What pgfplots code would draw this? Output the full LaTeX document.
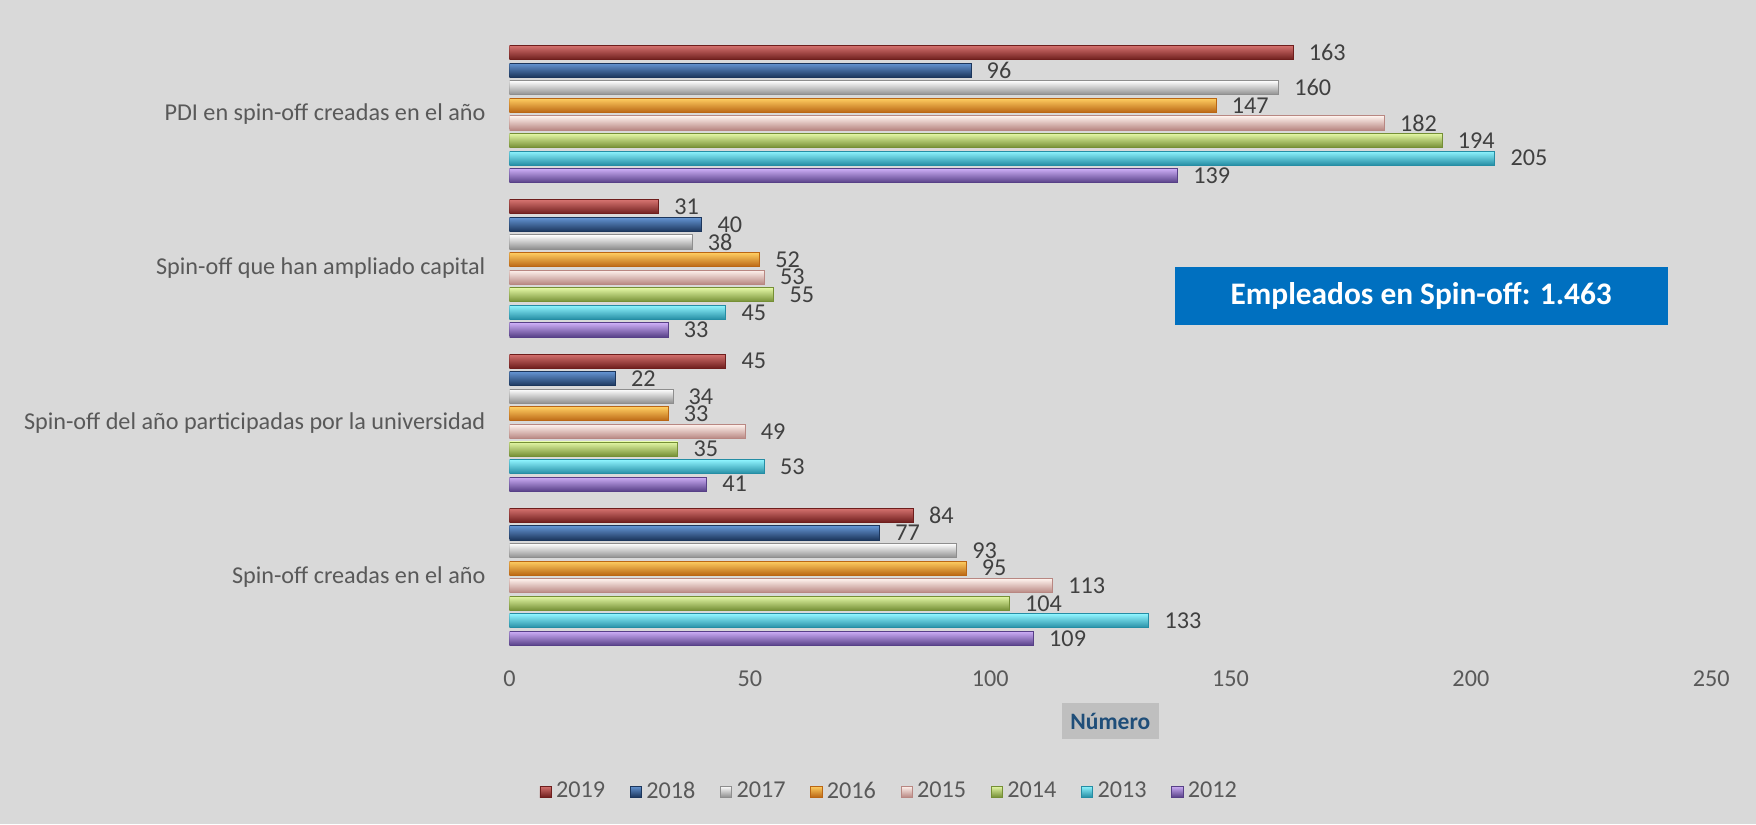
\documentclass[border=0pt]{standalone}
\usepackage{pgfplots}
\pgfplotsset{compat=1.18}
\usepackage{fontspec}
\setmainfont{Carlito}
\definecolor{bgc}{HTML}{D9D9D9}
\definecolor{tickgray}{HTML}{595959}
\definecolor{labgray}{HTML}{404040}
\definecolor{boxblue}{HTML}{0070C0}
\definecolor{xlabblue}{HTML}{1F4E79}
\definecolor{xlabbox}{HTML}{BFBFBF}
\definecolor{aT}{HTML}{D5726F}\definecolor{aB}{HTML}{6E1E1D}
\definecolor{bT}{HTML}{6494D2}\definecolor{bB}{HTML}{1C365C}
\definecolor{cT}{HTML}{FFFFFF}\definecolor{cB}{HTML}{8E8E8E}
\definecolor{dT}{HTML}{FFCE62}\definecolor{dB}{HTML}{BA6614}
\definecolor{eT}{HTML}{FFF3EE}\definecolor{eB}{HTML}{B88782}
\definecolor{fT}{HTML}{E4F8A6}\definecolor{fB}{HTML}{758F35}
\definecolor{gT}{HTML}{90F5FF}\definecolor{gB}{HTML}{258DA4}
\definecolor{hT}{HTML}{CDAEF6}\definecolor{hB}{HTML}{574087}
% one series: #1 colour prefix, #2 bar shift, #3..#6 values for categories 0..3
\newcommand\series[6]{%
\addplot[bar shift=#2, draw=#1B, top color=#1T, bottom color=#1B] coordinates {(#3,0)};
\addplot[forget plot, bar shift=#2, draw=#1B, top color=#1T, bottom color=#1B] coordinates {(#4,1)};
\addplot[forget plot, bar shift=#2, draw=#1B, top color=#1T, bottom color=#1B] coordinates {(#5,2)};
\addplot[forget plot, bar shift=#2, draw=#1B, top color=#1T, bottom color=#1B] coordinates {(#6,3)};
}
\begin{document}
\begin{tikzpicture}
\fill[bgc] (0,0) rectangle (784pt,368pt);
\begin{axis}[
  at={(227.5pt,76pt)}, anchor=south west,
  scale only axis, width=536.5pt, height=275.5pt,
  xmin=0, xmax=250, ymin=-0.5, ymax=3.5,
  xbar, bar width=6.3pt,
  point meta=x,
  axis line style={draw=none}, tick style={draw=none},
  xtick={0,50,100,150,200,250},
  ytick={0,1,2,3},
  yticklabels={Spin-off creadas en el año, Spin-off del año participadas por la universidad, Spin-off que han ampliado capital, PDI en spin-off creadas en el año},
  /pgf/number format/assume math mode=true,
  ticklabel style={font=\fontsize{10.8}{12}\selectfont, text=tickgray},
  xticklabel style={yshift=-4pt},
  yticklabel style={xshift=-3pt},
  xlabel={Número},
  xlabel style={at={(axis description cs:0.5,-0.109)}, anchor=center, fill=xlabbox, text=xlabblue, font=\bfseries\fontsize{10.5}{12}\selectfont, minimum width=43.5pt, minimum height=16pt, inner sep=0pt},
  nodes near coords,
  nodes near coords style={anchor=west, xshift=3.5pt, font=\fontsize{10.8}{12}\selectfont, text=labgray},
  legend columns=8,
  legend style={at={(axis description cs:0.317,-0.223)}, anchor=center, draw=none, fill=none, font=\fontsize{10.8}{12}\selectfont, text=tickgray, /tikz/every even column/.append style={column sep=9pt}},
  legend image code/.code={\draw[#1] (0pt,-2.5pt) rectangle (5pt,2.5pt);},
]
\series{a}{27.475pt}{84}{45}{31}{163}
\series{b}{19.625pt}{77}{22}{40}{96}
\series{c}{11.775pt}{93}{34}{38}{160}
\series{d}{3.925pt}{95}{33}{52}{147}
\series{e}{-3.925pt}{113}{49}{53}{182}
\series{f}{-11.775pt}{104}{35}{55}{194}
\series{g}{-19.625pt}{133}{53}{45}{205}
\series{h}{-27.475pt}{109}{41}{33}{139}
\legend{2019,2018,2017,2016,2015,2014,2013,2012}
\end{axis}
\node[fill=boxblue, text=white, font=\bfseries\fontsize{14}{16}\selectfont, minimum width=220pt, minimum height=26pt, inner sep=0pt] at (634.5pt,236pt) {Empleados en Spin-off: 1.463};
\end{tikzpicture}
\end{document}
